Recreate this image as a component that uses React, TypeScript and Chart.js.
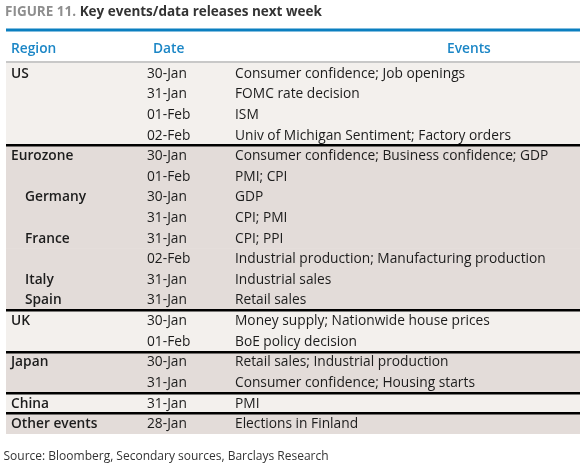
import React, { useEffect, useRef } from "react";
import { Chart, registerables } from "chart.js";

Chart.register(...registerables);

const figureLabel = "FIGURE 11.";
const titleText = "Key events/data releases next week";
const columnHeaders = ["Region", "Date", "Events"];
const regions = [
  "US", "", "", "",
  "Eurozone", "", "Germany", "", "France", "", "Italy", "Spain",
  "UK", "",
  "Japan", "",
  "China",
  "Other events",
];
const subRegions = ["Germany", "France", "Italy", "Spain"];
const groups = [
  "US", "US", "US", "US",
  "Eurozone", "Eurozone", "Eurozone", "Eurozone", "Eurozone", "Eurozone", "Eurozone", "Eurozone",
  "UK", "UK",
  "Japan", "Japan",
  "China",
  "Other events",
];
const dates = [
  "30-Jan", "31-Jan", "01-Feb", "02-Feb",
  "30-Jan", "01-Feb", "30-Jan", "31-Jan", "31-Jan", "02-Feb", "31-Jan", "31-Jan",
  "30-Jan", "01-Feb",
  "30-Jan", "31-Jan",
  "31-Jan",
  "28-Jan",
];
const events = [
  "Consumer confidence; Job openings",
  "FOMC rate decision",
  "ISM",
  "Univ of Michigan Sentiment; Factory orders",
  "Consumer confidence; Business confidence; GDP",
  "PMI; CPI",
  "GDP",
  "CPI; PMI",
  "CPI; PPI",
  "Industrial production; Manufacturing production",
  "Industrial sales",
  "Retail sales",
  "Money supply; Nationwide house prices",
  "BoE policy decision",
  "Retail sales; Industrial production",
  "Consumer confidence; Housing starts",
  "PMI",
  "Elections in Finland",
];
const sourceText = "Source: Bloomberg, Secondary sources, Barclays Research";

const FONT = '"Open Sans", "Noto Sans", sans-serif';
const LIGHT = "#f3f0ed";
const DARK = "#e3dcd9";

export default function App() {
  const ref = useRef<HTMLCanvasElement | null>(null);

  useEffect(() => {
    if (!ref.current) return;
    document.body.style.margin = "0";
    const groupOrder: string[] = [];
    groups.forEach((g) => {
      if (!groupOrder.includes(g)) groupOrder.push(g);
    });
    const rowColors = groups.map((g) => (groupOrder.indexOf(g) % 2 === 0 ? LIGHT : DARK));

    const tablePlugin = {
      id: "tableText",
      afterDraw(chart: any) {
        const ctx = chart.ctx as CanvasRenderingContext2D;
        const { left, right, top } = chart.chartArea;
        const yScale = chart.scales.y;
        const width = right - left;
        ctx.save();
        // title
        ctx.textBaseline = "alphabetic";
        ctx.textAlign = "left";
        ctx.font = `bold 13.5px ${FONT}`;
        ctx.fillStyle = "#8e8e8e";
        ctx.fillText(figureLabel, 5, 16);
        const w = ctx.measureText(figureLabel + " ").width;
        ctx.fillStyle = "#333333";
        ctx.fillText(titleText, 5 + w, 16);
        // blue rule
        ctx.fillStyle = "#0b7fc0";
        ctx.fillRect(left, 28.5, width, 3);
        // headers
        ctx.font = `600 13.75px ${FONT}`;
        ctx.fillStyle = "#1b86c6";
        ctx.fillText(columnHeaders[0], left + 5, 52.5);
        ctx.fillText(columnHeaders[1], left + 147, 52.5);
        ctx.fillText(columnHeaders[2], left + 441, 52.5);
        // gray rule
        ctx.fillStyle = "#c8c8c8";
        ctx.fillRect(left, top - 2, width, 2);
        // rows
        ctx.textBaseline = "middle";
        for (let i = 0; i < regions.length; i++) {
          const cy = yScale.getPixelForValue(i) + 0.5;
          ctx.fillStyle = "#1c1c1c";
          if (regions[i]) {
            ctx.font = `600 13.75px ${FONT}`;
            const indent = subRegions.includes(regions[i]) ? 19 : 5;
            ctx.fillText(regions[i], left + indent, cy);
          }
          ctx.font = `13.75px ${FONT}`;
          ctx.fillText(dates[i], left + 141, cy);
          ctx.fillText(events[i], left + 229, cy);
        }
        // group separators
        ctx.fillStyle = "#000000";
        for (let i = 1; i < groups.length; i++) {
          if (groups[i] !== groups[i - 1]) {
            const b = (yScale.getPixelForValue(i - 1) + yScale.getPixelForValue(i)) / 2;
            ctx.fillRect(left, Math.round(b) - 1, width, 2.5);
          }
        }
        // source
        ctx.textBaseline = "alphabetic";
        ctx.font = `12px ${FONT}`;
        ctx.fillStyle = "#333333";
        ctx.fillText(sourceText, 3.5, 459.5);
        ctx.restore();
      },
    };

    const chart = new Chart(ref.current, {
      type: "bar",
      data: {
        labels: regions.map((_, i) => String(i)),
        datasets: [
          {
            data: regions.map(() => 1),
            backgroundColor: rowColors,
            borderWidth: 0,
            barPercentage: 1,
            categoryPercentage: 1,
          },
        ],
      },
      options: {
        indexAxis: "y",
        responsive: false,
        animation: false,
        layout: { padding: { top: 63, left: 6, right: 0, bottom: 33 } },
        scales: {
          x: { display: false, min: 0, max: 1 },
          y: { display: false },
        },
        plugins: {
          legend: { display: false },
          tooltip: { enabled: false },
        },
      },
      plugins: [tablePlugin],
    });
    return () => chart.destroy();
  }, []);

  return (
    <div style={{ position: "absolute", left: 0, top: 0, width: 580, height: 467, background: "#fff" }}>
      <canvas ref={ref} width={580} height={467} style={{ display: "block" }} />
    </div>
  );
}
